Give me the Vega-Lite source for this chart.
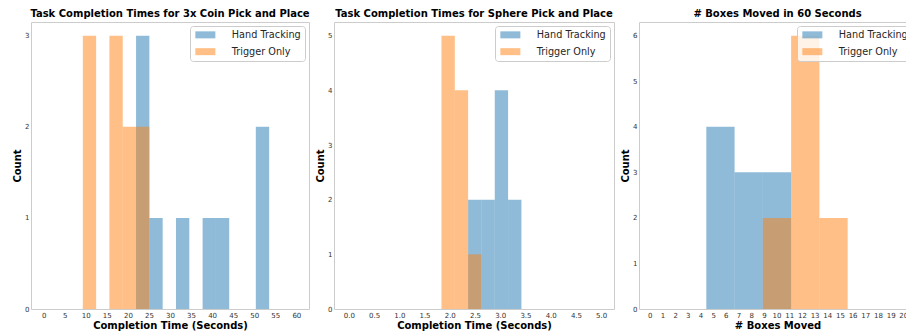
{
  "$schema": "https://vega.github.io/schema/vega-lite/v6.json",
  "background": "white",
  "padding": {"left": 12, "top": 8, "right": 0, "bottom": 0},
  "spacing": 25,
  "bounds": "flush",
  "config": {
    "font": "DejaVu Sans",
    "view": {"stroke": "#cccccc", "strokeWidth": 1},
    "title": {"fontSize": 10, "fontWeight": "bold", "font": "DejaVu Sans", "color": "#000000", "offset": 3, "baseline": "alphabetic", "anchor": "middle"},
    "axis": {"domain": false, "ticks": false, "tickSize": 0, "grid": false, "labelFont": "DejaVu Sans", "labelFontSize": 7, "labelColor": "#333333", "labelPadding": 2, "titleFont": "DejaVu Sans", "titleFontSize": 10, "titleFontWeight": "bold", "titleColor": "#000000", "labelFlush": false, "labelOverlap": false, "titlePadding": 2},
    "legend": {"orient": "top-right", "offset": 4, "padding": 4, "fillColor": "rgba(255,255,255,0.8)", "strokeColor": "#cccccc", "cornerRadius": 3, "labelFont": "DejaVu Sans", "labelFontSize": 9.7, "labelColor": "#262626", "symbolType": "M-2.857,-1H2.857V1H-2.857Z", "symbolSize": 49, "symbolOffset": 6.5, "symbolStrokeWidth": 0, "labelOffset": 21.6, "rowPadding": 5.8}
  },
  "datasets": {
    "coin": [
      {"series": "Hand Tracking", "start": 21.94, "end": 25.1, "count": 3},
      {"series": "Hand Tracking", "start": 25.1, "end": 28.26, "count": 1},
      {"series": "Hand Tracking", "start": 31.42, "end": 34.58, "count": 1},
      {"series": "Hand Tracking", "start": 37.74, "end": 40.9, "count": 1},
      {"series": "Hand Tracking", "start": 40.9, "end": 44.06, "count": 1},
      {"series": "Hand Tracking", "start": 50.38, "end": 53.54, "count": 2},
      {"series": "Trigger Only", "start": 9.3, "end": 12.46, "count": 3},
      {"series": "Trigger Only", "start": 15.62, "end": 18.78, "count": 3},
      {"series": "Trigger Only", "start": 18.78, "end": 21.94, "count": 2},
      {"series": "Trigger Only", "start": 21.94, "end": 25.1, "count": 2}
    ],
    "sphere": [
      {"series": "Hand Tracking", "start": 2.364, "end": 2.628, "count": 2},
      {"series": "Hand Tracking", "start": 2.628, "end": 2.892, "count": 2},
      {"series": "Hand Tracking", "start": 2.892, "end": 3.156, "count": 4},
      {"series": "Hand Tracking", "start": 3.156, "end": 3.42, "count": 2},
      {"series": "Trigger Only", "start": 1.836, "end": 2.1, "count": 5},
      {"series": "Trigger Only", "start": 2.1, "end": 2.364, "count": 4},
      {"series": "Trigger Only", "start": 2.364, "end": 2.628, "count": 1}
    ],
    "boxes": [
      {"series": "Hand Tracking", "start": 4.46, "end": 6.69, "count": 4},
      {"series": "Hand Tracking", "start": 6.69, "end": 8.92, "count": 3},
      {"series": "Hand Tracking", "start": 8.92, "end": 11.15, "count": 3},
      {"series": "Trigger Only", "start": 8.92, "end": 11.15, "count": 2},
      {"series": "Trigger Only", "start": 11.15, "end": 13.38, "count": 6},
      {"series": "Trigger Only", "start": 13.38, "end": 15.61, "count": 2}
    ]
  },
  "resolve": {"scale": {"color": "independent"}, "legend": {"color": "independent"}},
  "hconcat": [
    {
      "width": 278, "height": 287,
      "title": {"text": "Task Completion Times for 3x Coin Pick and Place"},
      "data": {"name": "coin"},
      "mark": {"type": "rect", "opacity": 0.5},
      "encoding": {
        "x": {"field": "start", "type": "quantitative", "scale": {"domain": [-3, 63], "nice": false, "zero": false}, "axis": {"values": [0, 5, 10, 15, 20, 25, 30, 35, 40, 45, 50, 55, 60], "title": "Completion Time (Seconds)"}},
        "x2": {"field": "end"},
        "y": {"field": "count", "type": "quantitative", "scale": {"domain": [0, 3.15], "nice": false}, "axis": {"values": [0, 1, 2, 3], "format": "d", "title": "Count"}},
        "y2": {"datum": 0},
        "color": {"field": "series", "type": "nominal", "scale": {"domain": ["Hand Tracking", "Trigger Only"], "range": ["#1f77b4", "#ff7f0e"]}, "legend": {"title": null}}
      }
    },
    {
      "width": 280, "height": 287,
      "title": {"text": "Task Completion Times for Sphere Pick and Place"},
      "data": {"name": "sphere"},
      "mark": {"type": "rect", "opacity": 0.5},
      "encoding": {
        "x": {"field": "start", "type": "quantitative", "scale": {"domain": [-0.293, 5.254], "nice": false, "zero": false}, "axis": {"values": [0, 0.5, 1, 1.5, 2, 2.5, 3, 3.5, 4, 4.5, 5], "format": ".1f", "title": "Completion Time (Seconds)"}},
        "x2": {"field": "end"},
        "y": {"field": "count", "type": "quantitative", "scale": {"domain": [0, 5.25], "nice": false}, "axis": {"values": [0, 1, 2, 3, 4, 5], "format": "d", "title": "Count"}},
        "y2": {"datum": 0},
        "color": {"field": "series", "type": "nominal", "scale": {"domain": ["Hand Tracking", "Trigger Only"], "range": ["#1f77b4", "#ff7f0e"]}, "legend": {"title": null}}
      }
    },
    {
      "width": 277, "height": 287,
      "title": {"text": "# Boxes Moved in 60 Seconds"},
      "data": {"name": "boxes"},
      "mark": {"type": "rect", "opacity": 0.5},
      "encoding": {
        "x": {"field": "start", "type": "quantitative", "scale": {"domain": [-0.85, 21], "nice": false, "zero": false}, "axis": {"values": [0, 1, 2, 3, 4, 5, 6, 7, 8, 9, 10, 11, 12, 13, 14, 15, 16, 17, 18, 19, 20], "format": "d", "title": "# Boxes Moved"}},
        "x2": {"field": "end"},
        "y": {"field": "count", "type": "quantitative", "scale": {"domain": [0, 6.3], "nice": false}, "axis": {"values": [0, 1, 2, 3, 4, 5, 6], "format": "d", "title": "Count"}},
        "y2": {"datum": 0},
        "color": {"field": "series", "type": "nominal", "scale": {"domain": ["Hand Tracking", "Trigger Only"], "range": ["#1f77b4", "#ff7f0e"]}, "legend": {"title": null}}
      }
    }
  ]
}
